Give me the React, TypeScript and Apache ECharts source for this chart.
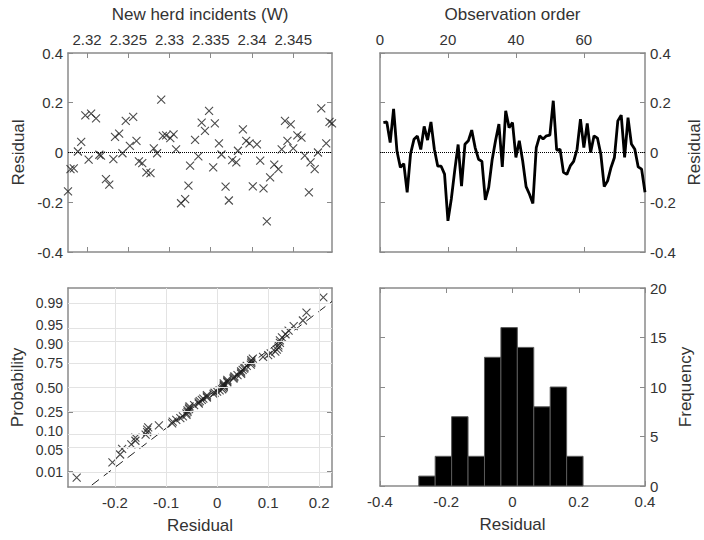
import React, { useEffect, useRef } from 'react';
import * as echarts from 'echarts';

// ---------- data ----------
// Top-left: residuals vs fitted "New herd incidents (W)"
const fittedValues = [
  2.3177, 2.3180, 2.3184, 2.3189, 2.3193, 2.3198, 2.3202, 2.3205, 2.3211, 2.3215,
  2.3217, 2.3223, 2.3227, 2.3232, 2.3234, 2.3239, 2.3243, 2.3247, 2.3252, 2.3256,
  2.3260, 2.3263, 2.3267, 2.3272, 2.3277, 2.3281, 2.3285, 2.3290, 2.3292, 2.3296,
  2.3301, 2.3305, 2.3308, 2.3314, 2.3319, 2.3323, 2.3325, 2.3331, 2.3335, 2.3339,
  2.3343, 2.3348, 2.3353, 2.3355, 2.3360, 2.3363, 2.3368, 2.3372, 2.3376, 2.3381,
  2.3383, 2.3389, 2.3393, 2.3397, 2.3401, 2.3406, 2.3410, 2.3414, 2.3418, 2.3422,
  2.3427, 2.3432, 2.3436, 2.3440, 2.3443, 2.3447, 2.3450, 2.3455, 2.3460, 2.3464,
  2.3469, 2.3471, 2.3476, 2.3480, 2.3484, 2.3490, 2.3494, 2.3497,
];
const fittedResiduals = [
  -0.156, -0.067, -0.064, 0.004, 0.043, 0.149, -0.029, 0.156, 0.137, -0.009,
  -0.013, -0.107, -0.129, -0.027, 0.063, 0.076, -0.003, 0.127, 0.027, 0.143,
  0.047, -0.036, -0.043, -0.08, -0.083, 0.017, -0.003, 0.213, 0.067, 0.069,
  0.058, 0.073, 0.013, -0.204, -0.187, -0.133, -0.053, 0.051, -0.016, 0.12,
  0.087, 0.167, -0.06, 0.117, 0.037, -0.008, -0.137, -0.193, -0.031, -0.04,
  0.007, 0.093, 0.047, 0.037, -0.136, 0.033, -0.033, -0.144, -0.277, -0.1,
  -0.049, -0.067, 0.013, 0.127, 0.047, 0.113, 0.017, 0.069, 0.06, -0.013,
  -0.16, -0.04, -0.067, 0.0, 0.177, 0.037, 0.123, 0.117,
];

// Top-right: residuals in observation order (obs 1..78)
const orderResiduals = [
  0.12, 0.123, 0.04, 0.175, 0.005, -0.06, -0.045, -0.16, -0.005, 0.053,
  0.066, 0.012, 0.105, 0.05, 0.123, 0.013, -0.055, -0.055, -0.087, -0.275,
  -0.186, -0.072, 0.032, -0.135, 0.033, 0.047, 0.09, 0.02, -0.027, -0.036,
  -0.19, -0.14, -0.03, 0.047, 0.114, -0.058, 0.168, 0.1, 0.12, -0.02,
  0.047, -0.034, -0.137, -0.168, -0.205, 0.02, 0.067, 0.054, 0.067, 0.07,
  0.208, 0.01, 0.013, -0.08, -0.088, -0.054, -0.036, 0.013, 0.134, 0.02,
  0.117, 0.0, 0.067, 0.058, -0.007, -0.137, -0.114, -0.06, -0.02, 0.127,
  0.15, -0.02, 0.14, 0.034, 0.013, -0.058, -0.067, -0.16,
];

// Bottom-right: histogram
const histEdges = [-0.283, -0.2334, -0.1838, -0.1342, -0.0846, -0.035, 0.0146, 0.0642, 0.1138, 0.1634, 0.213];
const histCounts = [1, 3, 7, 3, 13, 16, 14, 8, 10, 3];

// Tick labels
const fittedTicks = [2.32, 2.325, 2.33, 2.335, 2.34, 2.345];
const orderTicks = [0, 20, 40, 60];
const probResidTicks = [-0.2, -0.1, 0, 0.1, 0.2];
const probTicks = [0.01, 0.05, 0.1, 0.25, 0.5, 0.75, 0.9, 0.95, 0.99];
const probTickLabels = ['0.01', '0.05', '0.10', '0.25', '0.50', '0.75', '0.90', '0.95', '0.99'];
// small vertical nudges so that crowded labels do not collide
const probTickNudge = ['', 'dn', 'up', '', '', '', 'dn', 'up', ''];

// ---------- helpers ----------
function normInv(p: number): number {
  const a = [-3.969683028665376e1, 2.209460984245205e2, -2.759285104469687e2, 1.38357751867269e2, -3.066479806614716e1, 2.506628277459239];
  const b = [-5.447609879822406e1, 1.615858368580409e2, -1.556989798598866e2, 6.680131188771972e1, -1.328068155288572e1];
  const c = [-7.784894002430293e-3, -3.223964580411365e-1, -2.400758277161838, -2.549732539343734, 4.374664141464968, 2.938163982698783];
  const d = [7.784695709041462e-3, 3.224671290700398e-1, 2.445134137142996, 3.754408661907416];
  const pl = 0.02425;
  if (p < pl) {
    const q = Math.sqrt(-2 * Math.log(p));
    return (((((c[0] * q + c[1]) * q + c[2]) * q + c[3]) * q + c[4]) * q + c[5]) / ((((d[0] * q + d[1]) * q + d[2]) * q + d[3]) * q + 1);
  }
  if (p <= 1 - pl) {
    const q = p - 0.5;
    const r = q * q;
    return ((((((a[0] * r + a[1]) * r + a[2]) * r + a[3]) * r + a[4]) * r + a[5]) * q) / (((((b[0] * r + b[1]) * r + b[2]) * r + b[3]) * r + b[4]) * r + 1);
  }
  const q = Math.sqrt(-2 * Math.log(1 - p));
  return -(((((c[0] * q + c[1]) * q + c[2]) * q + c[3]) * q + c[4]) * q + c[5]) / ((((d[0] * q + d[1]) * q + d[2]) * q + d[3]) * q + 1);
}

const FONT = "'Liberation Sans', Arial, Helvetica, sans-serif";
const AX = '#8a8a8a';
const TXT = '#333333';
const MARK = '#1e1e1e';
const XSYM = 'path://M0,0L10,10M10,0L0,10';

function axis(o: any) {
  return {
    type: 'value',
    gridIndex: o.grid,
    position: o.position,
    min: o.min,
    max: o.max,
    interval: o.interval,
    name: o.name,
    nameLocation: 'middle',
    nameGap: o.nameGap,
    nameRotate: o.nameRotate,
    nameTextStyle: { fontSize: 17, color: TXT, fontFamily: FONT },
    axisLine: { show: true, onZero: false, lineStyle: { color: AX, width: 1.5 } },
    axisTick: { show: true, inside: true, length: 5, lineStyle: { color: AX, width: 1 }, customValues: o.ticks },
    axisLabel: {
      show: !!o.labels,
      color: TXT,
      fontSize: o.fontSize ?? 15,
      lineHeight: o.lineHeight,
      fontFamily: FONT,
      margin: o.margin ?? 6,
      customValues: o.ticks,
      formatter: o.formatter,
      rich: o.rich,
      showMinLabel: true,
      showMaxLabel: true,
      hideOverlap: false,
    },
    splitLine: { show: false },
  };
}

export default function App() {
  const ref = useRef<HTMLDivElement>(null);
  useEffect(() => {
    if (!ref.current) return;
    const chart = echarts.init(ref.current, null, { renderer: 'svg' });

    const n = orderResiduals.length;
    const sorted = [...orderResiduals].sort((x, y) => x - y);
    const probData = sorted.map((v, i) => [v, normInv((i + 0.5) / n)]);
    const pct = (p: number) => {
      const pos = n * p + 0.5 - 1;
      const lo = Math.floor(pos);
      const t = pos - lo;
      return sorted[lo] * (1 - t) + sorted[Math.min(lo + 1, n - 1)] * t;
    };
    const q1 = pct(0.25);
    const q3 = pct(0.75);
    const z3 = normInv(0.75);
    const sigma = (q3 - q1) / (2 * z3);
    const mu = (q1 + q3) / 2;
    const blMin = -0.292;
    const blMax = 0.225;
    const zMax = 2.75;
    const refLine = [blMin, blMax].map((x) => [x, (x - mu) / sigma]);
    const zTicks = probTicks.map(normInv);

    const fittedFmt = (v: number) => String(parseFloat(Number(v).toFixed(4)));
    const probFmt = (v: number) => {
      let best = 0;
      zTicks.forEach((z, i) => {
        if (Math.abs(z - v) < Math.abs(zTicks[best] - v)) best = i;
      });
      const nudge = probTickNudge[best];
      return nudge ? `{${nudge}|${probTickLabels[best]}}` : `{n|${probTickLabels[best]}}`;
    };
    const probRichBase = { fontSize: 14, fontFamily: FONT, color: TXT, lineHeight: 14 };
    const probRich = {
      n: { ...probRichBase },
      up: { ...probRichBase, padding: [0, 0, 5, 0] },
      dn: { ...probRichBase, padding: [5, 0, 0, 0] },
    };

    const fMin = fittedValues[0];
    const fMax = fittedValues[fittedValues.length - 1];

    const option: any = {
      animation: false,
      backgroundColor: '#ffffff',
      grid: [
        { left: 68, top: 53, width: 264, height: 199 },
        { left: 380, top: 53, width: 265, height: 199 },
        { left: 68, top: 288, width: 264, height: 199 },
        { left: 380, top: 288, width: 265, height: 198 },
      ],
      xAxis: [
        axis({ grid: 0, position: 'top', min: fMin, max: fMax, ticks: fittedTicks, labels: true, formatter: fittedFmt, name: 'New herd incidents (W)', nameGap: 30 }),
        axis({ grid: 0, position: 'bottom', min: fMin, max: fMax, ticks: fittedTicks }),
        axis({ grid: 1, position: 'top', min: 0, max: 78, ticks: orderTicks, labels: true, name: 'Observation order', nameGap: 30 }),
        axis({ grid: 1, position: 'bottom', min: 0, max: 78, ticks: orderTicks }),
        axis({ grid: 2, position: 'bottom', min: blMin, max: blMax, ticks: probResidTicks, labels: true, margin: 8, formatter: (v: number) => String(parseFloat(Number(v).toFixed(2))), name: 'Residual', nameGap: 30 }),
        axis({ grid: 2, position: 'top', min: blMin, max: blMax, ticks: probResidTicks }),
        axis({ grid: 3, position: 'bottom', min: -0.4, max: 0.4, interval: 0.2, labels: true, margin: 8, name: 'Residual', nameGap: 30 }),
        axis({ grid: 3, position: 'top', min: -0.4, max: 0.4, interval: 0.2 }),
      ],
      yAxis: [
        axis({ grid: 0, position: 'left', min: -0.4, max: 0.4, interval: 0.2, labels: true, margin: 5, name: 'Residual', nameGap: 41, nameRotate: 90 }),
        axis({ grid: 0, position: 'right', min: -0.4, max: 0.4, interval: 0.2 }),
        axis({ grid: 1, position: 'right', min: -0.4, max: 0.4, interval: 0.2, labels: true, margin: 5, name: 'Residual', nameGap: 41, nameRotate: 90 }),
        axis({ grid: 1, position: 'left', min: -0.4, max: 0.4, interval: 0.2 }),
        axis({ grid: 2, position: 'left', min: -zMax, max: zMax, ticks: zTicks, labels: true, margin: 5, fontSize: 14, formatter: probFmt, rich: probRich, name: 'Probability', nameGap: 42, nameRotate: 90 }),
        axis({ grid: 2, position: 'right', min: -zMax, max: zMax, ticks: zTicks }),
        axis({ grid: 3, position: 'right', min: 0, max: 20, interval: 5, labels: true, margin: 5, name: 'Frequency', nameGap: 32, nameRotate: 90 }),
        axis({ grid: 3, position: 'left', min: 0, max: 20, interval: 5 }),
      ],
      series: [
        {
          type: 'scatter',
          xAxisIndex: 0,
          yAxisIndex: 0,
          data: fittedValues.map((x, i) => [x, fittedResiduals[i]]),
          symbol: XSYM,
          symbolSize: 8,
          itemStyle: { color: 'transparent', borderColor: MARK, borderWidth: 1.1 },
          z: 3,
          markLine: {
            silent: true,
            symbol: ['none', 'none'],
            label: { show: false },
            lineStyle: { type: 'dotted', color: '#000', width: 1 },
            data: [{ yAxis: 0 }],
          },
        },
        {
          type: 'line',
          xAxisIndex: 2,
          yAxisIndex: 2,
          data: orderResiduals.map((v, i) => [i + 1, v]),
          showSymbol: false,
          lineStyle: { color: '#000', width: 2.8 },
          z: 3,
          markLine: {
            silent: true,
            symbol: ['none', 'none'],
            label: { show: false },
            lineStyle: { type: 'dotted', color: '#000', width: 1 },
            data: [{ yAxis: 0 }],
          },
        },
        {
          type: 'line',
          xAxisIndex: 4,
          yAxisIndex: 4,
          data: refLine,
          showSymbol: false,
          clip: true,
          lineStyle: { color: '#222', width: 1, type: [9, 6] },
          z: 2,
          markLine: {
            silent: true,
            symbol: ['none', 'none'],
            label: { show: false },
            lineStyle: { type: 'solid', color: '#e3e3e3', width: 1 },
            data: [
              ...probResidTicks.map((x) => ({ xAxis: x })),
              ...zTicks.map((z) => ({ yAxis: z })),
            ],
          },
        },
        {
          type: 'scatter',
          xAxisIndex: 4,
          yAxisIndex: 4,
          data: probData,
          symbol: XSYM,
          symbolSize: 8,
          itemStyle: { color: 'transparent', borderColor: MARK, borderWidth: 1.1 },
          z: 3,
        },
        {
          type: 'custom',
          xAxisIndex: 6,
          yAxisIndex: 6,
          data: histCounts.map((c, i) => [histEdges[i], histEdges[i + 1], c]),
          encode: { x: [0, 1], y: 2 },
          renderItem: (params: any, api: any) => {
            const p0 = api.coord([api.value(0), api.value(2)]);
            const p1 = api.coord([api.value(1), 0]);
            return {
              type: 'rect',
              shape: { x: p0[0], y: p0[1], width: p1[0] - p0[0], height: p1[1] - p0[1] },
              style: { fill: '#000000', stroke: '#5a5a5a', lineWidth: 1 },
            };
          },
          z: 2,
        },
      ],
    };
    chart.setOption(option);
    return () => chart.dispose();
  }, []);
  return <div ref={ref} style={{ position: 'absolute', left: 0, top: 0, width: 704, height: 540 }} />;
}
